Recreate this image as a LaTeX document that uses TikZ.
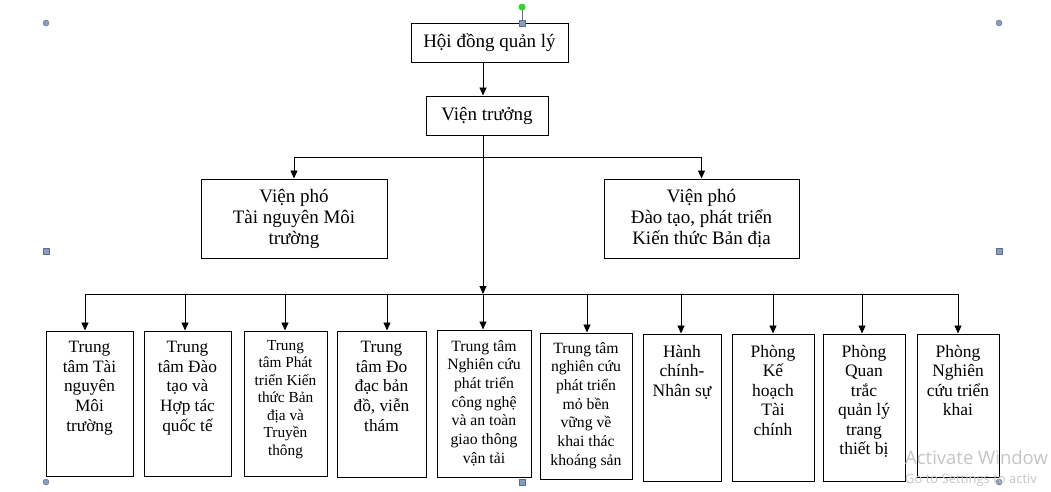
\documentclass[tikz,border=0pt]{standalone}
\usepackage{fontspec}
\setmainfont{Liberation Serif}
\newfontfamily\wmfont{Open Sans}
\usetikzlibrary{arrows.meta}
\definecolor{hdl}{HTML}{8A9CBE}
\definecolor{hdldark}{HTML}{5A6E92}
\definecolor{wm}{HTML}{C4C4C4}
\definecolor{rotg}{HTML}{2ED62E}
\tikzset{
  box/.style={draw, line width=1pt, inner sep=0pt},
  arr/.style={line width=0.9pt, -{Triangle[length=8pt,width=7pt]}},
  ln/.style={line width=0.9pt},
  toptext/.style={font=\fontsize{19}{21}\selectfont, align=center},
  btext/.style={inner sep=0pt, align=center, anchor=north},
  fa/.style={font=\fontsize{17.3}{19.7}\selectfont},
  fb/.style={font=\fontsize{15.3}{17.5}\selectfont},
  fc/.style={font=\fontsize{15.7}{18.7}\selectfont},
  fd/.style={font=\fontsize{17.5}{19.5}\selectfont},
  hcirc/.style={fill=hdl, draw=hdldark, line width=0.4pt},
}
\newcommand\obox[8]{%
  \node[box, minimum width={(#3-#2)*1pt}, minimum height={(#5-#4)*1pt}] (#1) at ({(#2+#3)/2},{(#4+#5)/2}) {};
  \node[btext,#6] (#1t) at ({(#2+#3)/2},{#4+#7}) {#8};
}
\begin{document}
\begin{tikzpicture}[x=1pt,y=-1pt]
\useasboundingbox (0,0) rectangle (1051,491);

% top boxes
\node[box, toptext, minimum width=157pt, minimum height=39pt] (hd) at (489.5,42.5) {Hội đồng quản lý};
\node[box, toptext, minimum width=122pt, minimum height=39pt] (vt) at (487,115.5) {Viện trưởng};
\node[box, toptext, minimum width=186pt, minimum height=79pt] (vp1) at (294,218.5) {Viện phó\\Tài nguyên Môi\\trường};
\node[box, toptext, minimum width=195pt, minimum height=79pt] (vp2) at (701.5,218.5) {Viện phó\\Đào tạo, phát triển\\Kiến thức Bản địa};

% bottom boxes
\obox{b1}{46}{133}{331}{476}{fa}{10}{Trung\\tâm Tài\\nguyên\\Môi\\trường}
\obox{b2}{144}{231}{331}{476}{fa}{10}{Trung\\tâm Đào\\tạo và\\Hợp tác\\quốc tế}
\obox{b3}{244}{327}{331}{476}{fb}{9}{Trung\\tâm Phát\\triển Kiến\\thức Bản\\địa và\\Truyền\\thông}
\obox{b4}{337}{426}{331}{477}{fa}{10}{Trung\\tâm Đo\\đạc bản\\đồ, viễn\\thám}
\obox{b5}{437}{531}{330}{477}{fc}{10}{Trung tâm\\Nghiên cứu\\phát triển\\công nghệ\\và an toàn\\giao thông\\vận tải}
\obox{b6}{540}{632}{333}{479}{fc}{9}{Trung tâm\\nghiên cứu\\phát triển\\mỏ bền\\vững về\\khai thác\\khoáng sản}
\obox{b7}{643}{721}{334}{481}{fd}{11}{Hành\\chính-\\Nhân sự}
\obox{b8}{732}{814}{334}{481}{fd}{11}{Phòng\\Kế\\hoạch\\Tài\\chính}
\obox{b9}{823}{905}{334}{481}{fd}{11}{Phòng\\Quan\\trắc\\quản lý\\trang\\thiết bị}
\obox{b10}{917}{999}{334}{477}{fd}{11}{Phòng\\Nghiên\\cứu triển\\khai}

% connectors
\coordinate (hdb) at (483,62);
\draw[arr] (hdb) -- (hdb |- vt.north);
\coordinate (vtb) at (483,135);
\coordinate (j1) at (483,157);
\coordinate (bus) at (483,294);
\draw[arr] (vtb) -- (bus);
\draw[arr] (j1) -| (vp1.north);
\draw[arr] (j1) -| (vp2.north);

\coordinate (c1) at (85,294);
\coordinate (c2) at (185,294);
\coordinate (c3) at (285,294);
\coordinate (c4) at (387,294);
\coordinate (c5) at (483,294);
\coordinate (c6) at (587,294);
\coordinate (c7) at (681,294);
\coordinate (c8) at (773,294);
\coordinate (c9) at (862,294);
\coordinate (c10) at (958,294);
\draw[ln] (c1) -- (c10);
\foreach \i in {1,...,10} {
  \draw[arr] (c\i) -- (c\i |- b\i.north);
}

% selection handles
\draw[hdldark, line width=0.8pt] (522,10) -- (522,21);
\fill[rotg] (522,7) circle (3.5pt);
\foreach \p in {(46,23),(999,23),(46,482),(999,482)} {
  \filldraw[hcirc] \p circle (3pt);
}
\foreach \p in {(522,23),(46,251),(999,251),(522,482)} {
  \filldraw[hcirc] \p ++(-3,-3) rectangle ++(6,6);
}

% watermark (visible part only)
\node[anchor=west, inner sep=0pt, text=wm, font=\wmfont\fontsize{18.5}{20}\selectfont] (wm1) at (905,458) {Activate Window};
\node[anchor=west, inner sep=0pt, text=wm, font=\wmfont\fontsize{13}{15}\selectfont] (wm2) at (905,480) {Go to Settings to activ};
\end{tikzpicture}
\end{document}
